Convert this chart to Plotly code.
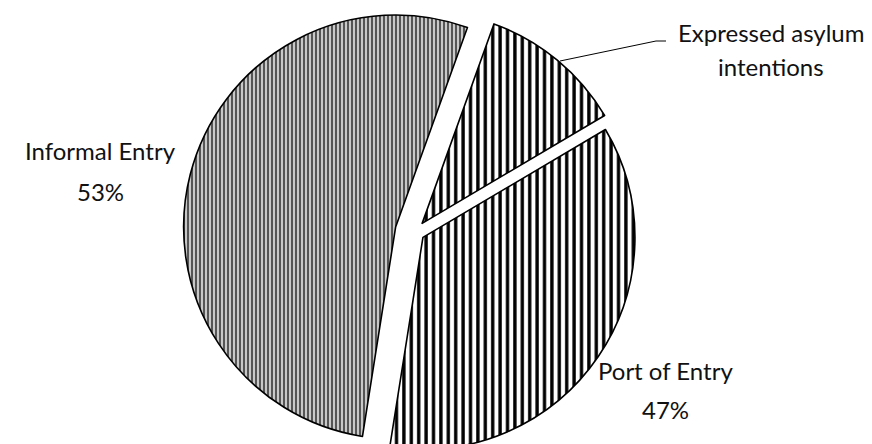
import math
import plotly.graph_objects as go

# ---- data ----
labels = ["Expressed asylum intentions", "Port of Entry", "Informal Entry"]
values = [11, 36, 53]
label_lines = [["Expressed asylum", "intentions"], ["Port of Entry", "47%"], ["Informal Entry", "53%"]]

# ---- layout constants ----
W, H = 872, 444
R = 212                      # pie radius in px
CX, CY = 407.0, 224.0        # unexploded pie centre in px
ROT = 19.8                   # start angle of first slice (deg, clockwise from 12 o'clock)
pull_px = [11.2, 9.6, 20.0]  # explosion distance of each slice in px

patterns = [
    dict(shape="|", bgcolor="#ffffff", fgcolor="#000000", size=7.4, solidity=0.45),
    dict(shape="|", bgcolor="#ffffff", fgcolor="#000000", size=7.4, solidity=0.45),
    dict(shape="|", bgcolor="#555555", fgcolor="#e6e6e6", size=4, solidity=0.4),
]

fig = go.Figure()
total = sum(values)
start = ROT
for i, v in enumerate(values):
    span = v / total * 360.0
    bis = math.radians(start + span / 2)
    ax = CX + pull_px[i] * math.sin(bis)
    ay = CY - pull_px[i] * math.cos(bis)
    start += span
    n = len(values)
    cols = ["rgba(0,0,0,0)"] * n
    shapes = [""] * n
    fg = ["rgba(0,0,0,0)"] * n
    bg = ["rgba(0,0,0,0)"] * n
    sizes = [8] * n
    sol = [0.3] * n
    lw = [0] * n
    cols[i] = patterns[i]["bgcolor"]
    shapes[i] = patterns[i]["shape"]
    fg[i] = patterns[i]["fgcolor"]
    bg[i] = patterns[i]["bgcolor"]
    sizes[i] = patterns[i]["size"]
    sol[i] = patterns[i]["solidity"]
    lw[i] = 1.6
    fig.add_trace(go.Pie(
        labels=labels, values=values, sort=False, direction="clockwise",
        rotation=ROT, textinfo="none", hoverinfo="skip", showlegend=False,
        marker=dict(colors=cols, line=dict(color="#000000", width=lw),
                    pattern=dict(shape=shapes, fgcolor=fg, bgcolor=bg,
                                 size=sizes, solidity=sol, fillmode="replace")),
        domain=dict(x=[(ax - R) / W, (ax + R) / W],
                    y=[1 - (ay + R) / H, 1 - (ay - R) / H]),
    ))

# ---- labels ----
label_pos = [(763, [24, 58]), (657, [362, 401]), (92, [143, 183])]
font = dict(family="Lato", size=24, color="#111111")
for (x, ys), lines in zip(label_pos, label_lines):
    for y, t in zip(ys, lines):
        fig.add_annotation(x=x / W, y=1 - y / H, xref="paper", yref="paper",
                           text=t, showarrow=False, font=font,
                           xanchor="center", yanchor="middle")

# leader line for the small slice
pts = [(552, 53), (648, 33), (658, 33)]
path = "M " + " L ".join(f"{x / W} {1 - y / H}" for x, y in pts)
fig.add_shape(type="path", path=path, xref="paper", yref="paper",
              line=dict(color="#000000", width=1))

fig.update_layout(width=W, height=H, margin=dict(l=0, r=0, t=0, b=0),
                  paper_bgcolor="white", plot_bgcolor="white")
fig.write_html("out.html")
